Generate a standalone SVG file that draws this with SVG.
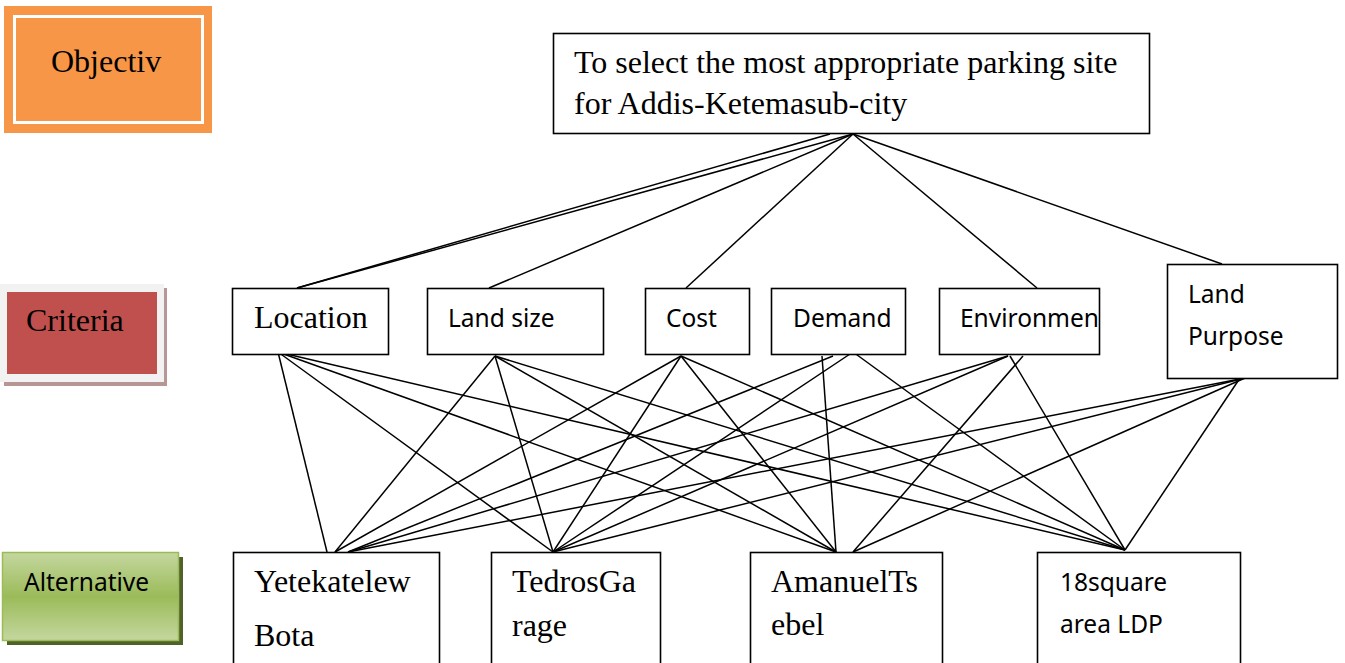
<svg xmlns="http://www.w3.org/2000/svg" width="1345" height="663" viewBox="0 0 1345 663">
<defs>
<linearGradient id="gGreen" x1="0" y1="0" x2="0" y2="1">
<stop offset="0" stop-color="#c4d79f"/>
<stop offset="0.5" stop-color="#9bbb59"/>
<stop offset="1" stop-color="#c4d79f"/>
</linearGradient>
</defs>
<style>
.box{fill:#fff;stroke:#000;stroke-width:1.6}
.ser{font-family:"Liberation Serif","Times New Roman",serif;font-size:32px;fill:#000}
.san{font-family:"Noto Sans","Liberation Sans",sans-serif;font-size:24.5px;fill:#000}
.ln{stroke:#000;stroke-width:1.5;fill:none}
</style>
<rect width="1345" height="663" fill="#fff"/>

<g id="label-objective">
<rect x="4" y="6" width="208" height="127" fill="#f79646"/>
<rect x="14.5" y="16.5" width="188" height="106" fill="none" stroke="#fff" stroke-width="3"/>
<text class="ser" x="51" y="72">Objectiv</text>
</g>

<g id="label-criteria">
<rect x="0" y="284" width="164" height="98" fill="#f2f2f2"/>
<rect x="164" y="288" width="3" height="98" fill="#b89696"/>
<rect x="4" y="382" width="163" height="4" fill="#b89696"/>
<rect x="7" y="292" width="150" height="82" fill="#c0504d"/>
<text class="ser" x="26" y="331">Criteria</text>
</g>

<g id="label-alternative">
<rect x="7" y="557" width="176" height="88" fill="#4f6228"/>
<rect x="2.5" y="552.5" width="176" height="88" fill="url(#gGreen)" stroke="#9bbb59" stroke-width="1.5"/>
<text class="san" x="24" y="591">Alternative</text>
</g>

<g id="connectors">
<path class="ln" d="M830 134 L297 288"/>
<path class="ln" d="M853 134 L297 288"/>
<path class="ln" d="M853 134 L489 288"/>
<path class="ln" d="M853 134 L686 288"/>
<path class="ln" d="M853 134 L1037 288"/>
<path class="ln" d="M853 134 L1222 264"/>

<path class="ln" d="M278 352 L327 552"/>
<path class="ln" d="M278 352 L553 552"/>
<path class="ln" d="M278 352 L836 552"/>
<path class="ln" d="M278 352 L1125 550"/>

<path class="ln" d="M495 356 L335 552"/>
<path class="ln" d="M495 356 L553 552"/>
<path class="ln" d="M495 356 L836 552"/>
<path class="ln" d="M495 356 L1125 550"/>

<path class="ln" d="M681 356 L335 552"/>
<path class="ln" d="M681 356 L553 552"/>
<path class="ln" d="M681 356 L836 552"/>
<path class="ln" d="M681 356 L1125 550"/>

<path class="ln" d="M833 356 L348 552"/>
<path class="ln" d="M853 352 L553 552"/>
<path class="ln" d="M822 356 L836 552"/>
<path class="ln" d="M853 352 L1125 550"/>

<path class="ln" d="M1008 356 L348 552"/>
<path class="ln" d="M1008 356 L553 552"/>
<path class="ln" d="M1023 356 L853 552"/>
<path class="ln" d="M1010 356 L1125 550"/>

<path class="ln" d="M1245 378 L348 552"/>
<path class="ln" d="M1245 378 L553 552"/>
<path class="ln" d="M1245 378 L853 552"/>
<path class="ln" d="M1240 378 L1125 550"/>
</g>

<g id="goal">
<rect class="box" x="553.5" y="33.5" width="596" height="100"/>
<text class="ser" x="574" y="73">To select the most appropriate parking site</text>
<text class="ser" x="574" y="114">for Addis-Ketemasub-city</text>
</g>

<g id="c-location">
<rect class="box" x="232.5" y="288.5" width="156" height="66"/>
<text class="ser" x="254" y="328">Location</text>
</g>
<g id="c-landsize">
<rect class="box" x="427.5" y="288.5" width="176" height="66"/>
<text class="san" x="448" y="327">Land size</text>
</g>
<g id="c-cost">
<rect class="box" x="645.5" y="288.5" width="104" height="66"/>
<text class="san" x="666" y="327">Cost</text>
</g>
<g id="c-demand">
<rect class="box" x="771.5" y="288.5" width="134" height="66"/>
<text class="san" x="793" y="327">Demand</text>
</g>
<g id="c-environment">
<rect class="box" x="939.5" y="288.5" width="160" height="66"/>
<text class="san" x="960" y="327">Environmen</text>
</g>
<g id="c-landpurpose">
<rect class="box" x="1167.5" y="264.5" width="170" height="114"/>
<text class="san" x="1188" y="303">Land</text>
<text class="san" x="1188" y="345">Purpose</text>
</g>

<g id="a-yetekatelew">
<rect class="box" x="233.5" y="552.5" width="206" height="120"/>
<text class="ser" x="254" y="592">Yetekatelew</text>
<text class="ser" x="254" y="646">Bota</text>
</g>
<g id="a-tedros">
<rect class="box" x="491.5" y="552.5" width="169" height="120"/>
<text class="ser" x="512" y="592">TedrosGa</text>
<text class="ser" x="512" y="636">rage</text>
</g>
<g id="a-amanuel">
<rect class="box" x="750.5" y="552.5" width="192" height="120"/>
<text class="ser" x="771" y="592">AmanuelTs</text>
<text class="ser" x="771" y="635">ebel</text>
</g>
<g id="a-18square">
<rect class="box" x="1037.5" y="552.5" width="203" height="120"/>
<text class="san" x="1060" y="591">18square</text>
<text class="san" x="1060" y="633">area LDP</text>
</g>
</svg>
